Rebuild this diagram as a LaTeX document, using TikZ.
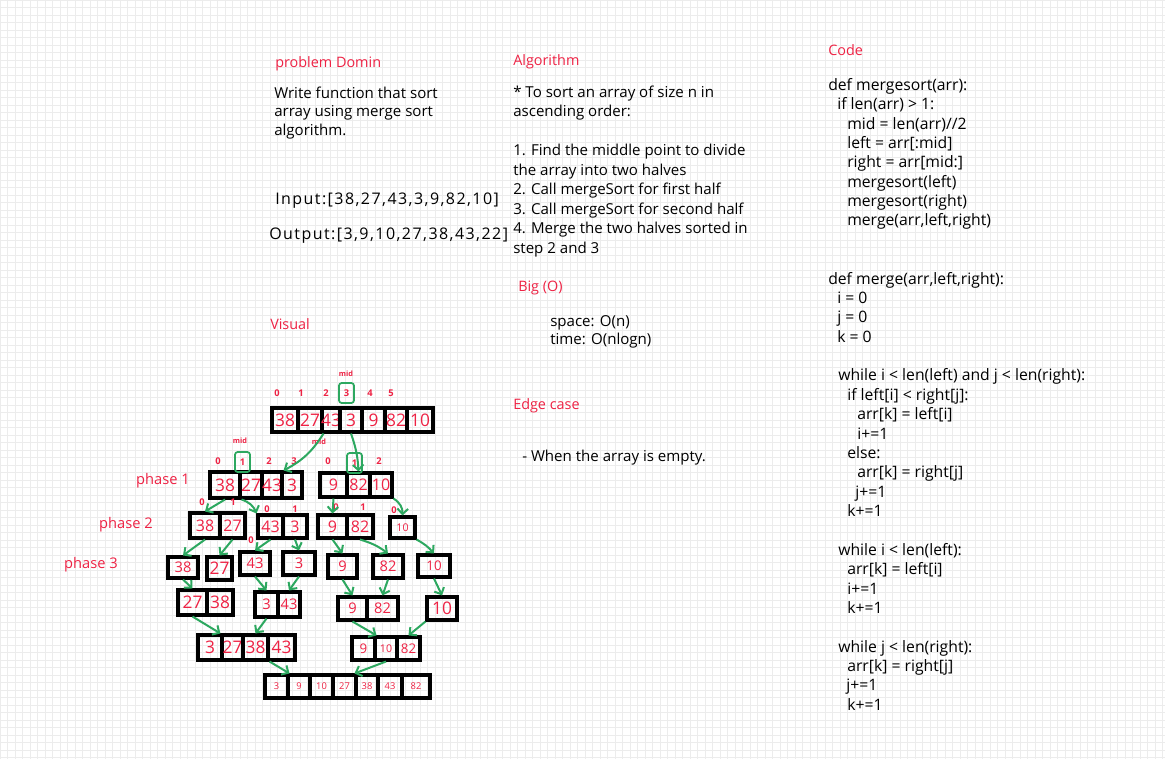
\documentclass[tikz,border=0pt]{standalone}
\usepackage{fontspec}
\setmainfont{Open Sans}
\usetikzlibrary{arrows.meta}
\definecolor{rd}{HTML}{EE2244}
\definecolor{gr}{HTML}{2DA860}
\definecolor{gridc}{HTML}{ECECEC}
\newcommand\cel[7]{\node[cellst,font=\fontsize{#7}{#7}\selectfont,minimum width={(#4-#2)*0.75pt},minimum height={(#5-#3)*0.75pt}] (#1) at ({(#2+#4)/2},{(#3+#5)/2}) {#6};}
\tikzset{
  cellst/.style={draw=black,line width=2.3pt,text=rd,inner sep=0pt},
  txbase/.style={anchor=west,inner sep=0pt,text height=0.75em,text depth=0.25em,yshift=-1.5pt},
  bodyt/.style={txbase,font=\fontsize{11.3}{12}\selectfont},
  codet/.style={txbase,font=\fontsize{11.8}{12}\selectfont},
  iot/.style={txbase,font=\fontsize{12}{12}\selectfont\addfontfeature{LetterSpace=9}},
  titlet/.style={txbase,text=rd,font=\fontsize{10.8}{12}\selectfont},
  idx/.style={inner sep=0pt,text=rd,font=\fontsize{7}{7}\selectfont\bfseries},
  midt/.style={inner sep=0pt,text=rd,font=\fontsize{5.5}{6}\selectfont\bfseries},
  midbox/.style={idx,draw=gr,line width=1.3pt,rounded corners=2pt,minimum width={15*0.75pt},minimum height={20*0.75pt}},
  phaset/.style={inner sep=0pt,text=rd,font=\fontsize{11}{12}\selectfont},
  arr/.style={draw=gr,line width=1.5pt,-{Straight Barb[length=4pt,width=8pt]}}
}
\begin{document}
\begin{tikzpicture}[x=0.75pt,y=-0.75pt]
\useasboundingbox (0,0) rectangle (1165,759);
\fill[white] (0,0) rectangle (1165,759);
\foreach \gx in {0,7.5,...,1165} \draw[gridc,line width=0.6pt] (\gx,0) -- (\gx,759);
\foreach \gy in {0,7.5,...,759} \draw[gridc,line width=0.6pt] (0,\gy) -- (1165,\gy);

% ---- text columns
\node[titlet] (probt) at (275,62) {problem Domin};
\foreach \yy/\tx in {0/{Write function that sort},1/{array using merge sort},2/{algorithm.}}
  \node[bodyt] (prob\yy) at (274,{93+\yy*18.5}) {\tx};
\node[iot] (inp) at (275,199) {Input:[38,27,43,3,9,82,10]};
\node[iot] (outp) at (269,234) {Output:[3,9,10,27,38,43,22]};
\node[titlet] (vist) at (270,324) {Visual};

\node[titlet] (algt) at (513,60) {Algorithm};
\foreach \yy/\tx in {0/{* To sort an array of size n in},1/{ascending order:},3/{1. Find the middle point to divide},4/{the array into two halves},5/{2. Call mergeSort for first half},6/{3. Call mergeSort for second half},7/{4. Merge the two halves sorted in},8/{step 2 and 3}}
  \node[bodyt] (alg\yy) at (513,{92+\yy*19.5}) {\tx};
\node[titlet] (bigt) at (518,286) {Big (O)};
\node[bodyt] (spc) at (550,321) {space: O(n)};
\node[bodyt] (tim) at (550,339) {time: O(nlogn)};
\node[titlet] (edgt) at (513,404) {Edge case};
\node[bodyt] (edg) at (522,456) {- When the array is empty.};

\node[titlet] (codet) at (828,50) {Code};
\foreach \yy/\xx/\tx in {0/828/{def mergesort(arr):},1/837/{if len(arr) > 1:},2/847/{mid = len(arr)//2},3/847/{left = arr[:mid]},4/847/{right = arr[mid:]},5/847/{mergesort(left)},6/847/{mergesort(right)},7/847/{merge(arr,left,right)},10/828/{def merge(arr,left,right):},11/837/{i = 0},12/837/{j = 0},13/837/{k = 0},15/838/{while i < len(left) and j < len(right):},16/847/{if left[i] < right[j]:},17/857/{arr[k] = left[i]},18/857/{i+=1},19/847/{else:},20/857/{arr[k] = right[j]},21/855/{j+=1},22/847/{k+=1},24/838/{while i < len(left):},25/847/{arr[k] = left[i]},26/847/{i+=1},27/847/{k+=1},29/838/{while j < len(right):},30/847/{arr[k] = right[j]},31/846/{j+=1},32/847/{k+=1}}
  \node[codet] (code\yy) at (\xx,{85+\yy*19.375}) {\tx};

% ---- phase labels
\node[phaset] (ph1) at (163,481) {phase 1};
\node[phaset] (ph2) at (126,525) {phase 2};
\node[phaset] (ph3) at (91,565) {phase 3};

% ---- top array
\cel{t0}{272}{408}{298}{432}{38}{13}
\cel{t1}{298}{408}{322}{432}{27}{13}
\cel{t2}{322}{408}{340}{432}{43}{13}
\cel{t3}{340}{408}{362}{432}{3}{13}
\cel{t4}{362}{408}{385}{432}{9}{13}
\cel{t5}{385}{408}{407}{432}{82}{13}
\cel{t6}{407}{408}{433}{432}{10}{13}
\node[idx] (ti0) at (277,393) {0};
\node[idx] (ti1) at (301,393) {1};
\node[idx] (ti2) at (326,393) {2};
\node[midbox] (ti3) at (346.5,393) {3};
\node[idx] (ti4) at (370,393) {4};
\node[idx] (ti5) at (391,393) {5};
\node[midt] (tmid) at (346,374) {mid};

% ---- phase 1
\cel{l0}{210}{472}{240}{498}{38}{13}
\cel{l1}{240}{472}{262}{498}{27}{13}
\cel{l2}{262}{472}{282}{498}{43}{13}
\cel{l3}{282}{472}{302}{498}{3}{13}
\cel{r0}{320}{473}{347}{497}{9}{12}
\cel{r1}{347}{473}{370}{497}{82}{12}
\cel{r2}{370}{473}{392}{497}{10}{12}
\node[idx] (li0) at (218,461) {0};
\node[midbox] (li1) at (242.5,462) {1};
\node[idx] (li2) at (269,461) {2};
\node[idx] (li3) at (294,461) {3};
\node[midt] (lmid) at (240,441) {mid};
\node[idx] (ri0) at (328,461) {0};
\node[midbox] (ri1) at (354.5,463) {1};
\node[idx] (ri2) at (379,461) {2};
\node[midt] (rmid) at (319,442) {mid};

% ---- phase 2
\cel{a0}{190}{513}{220}{538}{38}{12}
\cel{a1}{220}{513}{245}{538}{27}{12}
\cel{b0}{258}{515}{283}{538}{43}{12}
\cel{b1}{283}{515}{307}{538}{3}{12}
\cel{c0}{318}{515}{347}{538}{9}{12}
\cel{c1}{347}{515}{373}{538}{82}{12}
\cel{d0}{390}{517}{415}{538}{10}{8}
\node[idx] (ai0) at (202,502) {0};
\node[idx] (ai1) at (233,502) {1};
\node[idx] (bi0) at (267,509) {0};
\node[idx] (bi1) at (295,509) {1};
\node[idx] (ci0) at (336,507) {0};
\node[idx] (ci1) at (363,507) {1};
\node[idx] (di0) at (394,510) {0};
\node[idx] (bi2) at (251,540) {0};

% ---- phase 3
\cel{s0}{168}{557}{198}{578}{38}{11}
\cel{s1}{207}{557}{232}{580}{27}{13}
\cel{s2}{240}{552}{270}{575}{43}{11}
\cel{s3}{283}{552}{315}{575}{3}{11}
\cel{s4}{328}{555}{357}{578}{9}{11}
\cel{s5}{373}{555}{403}{578}{82}{11}
\cel{s6}{418}{555}{450}{577}{10}{10}

% ---- phase 4
\cel{q0}{178}{590}{207}{615}{27}{13}
\cel{q1}{207}{590}{233}{615}{38}{13}
\cel{q2}{255}{592}{278}{617}{3}{11}
\cel{q3}{278}{592}{300}{617}{43}{11}
\cel{q4}{338}{597}{367}{620}{9}{11}
\cel{q5}{367}{597}{398}{620}{82}{11}
\cel{q6}{427}{597}{457}{620}{10}{13}

% ---- phase 5
\cel{m0}{198}{635}{222}{660}{3}{13}
\cel{m1}{222}{635}{243}{660}{27}{13}
\cel{m2}{243}{635}{268}{660}{38}{13}
\cel{m3}{268}{635}{295}{660}{43}{13}
\cel{n0}{352}{637}{375}{660}{9}{10}
\cel{n1}{375}{637}{397}{660}{10}{8}
\cel{n2}{397}{637}{420}{660}{82}{10}

% ---- final
\cel{f0}{265}{675}{288}{698}{3}{7}
\cel{f1}{288}{675}{310}{698}{9}{7}
\cel{f2}{310}{675}{333}{698}{10}{7}
\cel{f3}{333}{675}{356}{698}{27}{7}
\cel{f4}{356}{675}{378}{698}{38}{7}
\cel{f5}{378}{675}{402}{698}{43}{7}
\cel{f6}{402}{675}{430}{698}{82}{7}

% ---- arrows
\draw[arr] (t1.south east) to[bend left=15] (l2.north east);
\draw[arr] (t3.south) to[bend left=8] (r1.north);
\draw[arr] (l0.south) to (a0.north);
\draw[arr] (l0.south east) to[bend left=25] (b0.north west);
\draw[arr] (r0.south) to (c0.north);
\draw[arr] (r2.south east) to[bend left=30] (d0.north);
\draw[arr] (a0.south) to (s0.north);
\draw[arr] (a1.south) to (s1.north);
\draw[arr] (b0.south) to (s2.north);
\draw[arr] (b1.south) to (s3.north);
\draw[arr] (c0.south) to (s4.north);
\draw[arr] (c1.south) to[bend left=10] (s5.north);
\draw[arr] (d0.south east) to[bend left=10] (s6.north);
\draw[arr] (s0.south) to (q0.north);
\draw[arr] (s2.south) to (q2.north);
\draw[arr] (s3.south) to (q3.north);
\draw[arr] (s4.south) to (q4.north);
\draw[arr] (s5.south) to (q5.north);
\draw[arr] (s6.south) to (q6.north);
\draw[arr] (q0.south) to (m1.north west);
\draw[arr] (q2.south) to (m2.north);
\draw[arr] (q4.south) to (n0.north east);
\draw[arr] (q6.south west) to (n2.north);
\draw[arr] (m2.south east) to (f0.north east);
\draw[arr] (n1.south) to (f4.north west);
\end{tikzpicture}
\end{document}
